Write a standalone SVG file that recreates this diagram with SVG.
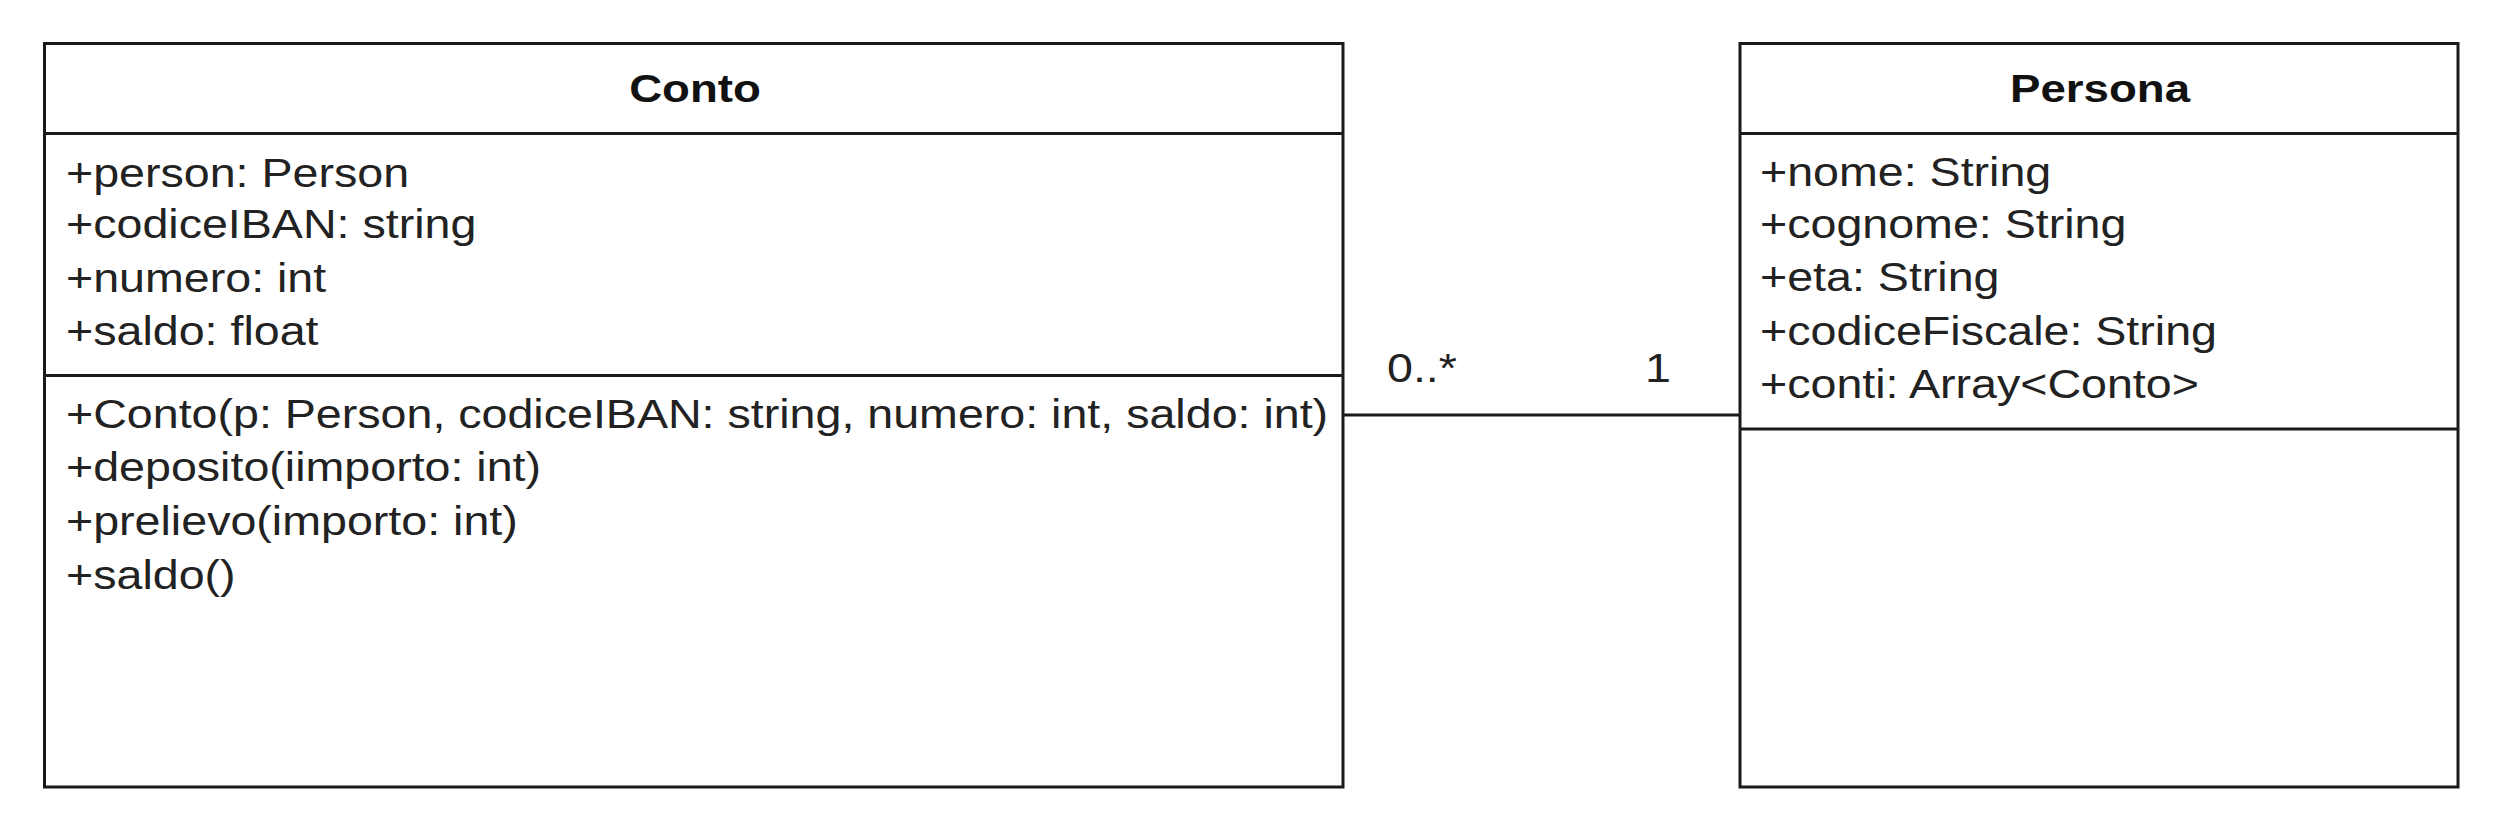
<svg xmlns="http://www.w3.org/2000/svg" width="2498" height="823" viewBox="0 0 2498 823">
<style>
.box{fill:#ffffff;stroke:#1a1a1a;stroke-width:3}
.div{stroke:#1a1a1a;stroke-width:3;fill:none}
.t{font-family:"Liberation Sans",Arial,sans-serif;font-size:40px;fill:#222222}
.h{font-family:"Liberation Sans",Arial,sans-serif;font-size:39px;font-weight:bold;fill:#111111;text-anchor:middle}
</style>
<rect width="2498" height="823" fill="#ffffff"/>
<g id="connectors">
<line class="div" x1="1343" y1="415" x2="1740" y2="415"/>
<text class="t" transform="translate(1387,382) scale(1.165,1)">0..*</text>
<text class="t" transform="translate(1645,382) scale(1.165,1)">1</text>
</g>
<g id="conto">
<rect class="box" x="44.5" y="43.5" width="1298.5" height="743.5"/>
<line class="div" x1="44.5" y1="133.5" x2="1343" y2="133.5"/>
<line class="div" x1="44.5" y1="375.5" x2="1343" y2="375.5"/>
<text class="h" transform="translate(695,102) scale(1.17,1)">Conto</text>
<text class="t" transform="translate(66,187) scale(1.165,1)">+person: Person</text>
<text class="t" transform="translate(66,238) scale(1.165,1)">+codiceIBAN: string</text>
<text class="t" transform="translate(66,292) scale(1.165,1)">+numero: int</text>
<text class="t" transform="translate(66,345) scale(1.165,1)">+saldo: float</text>
<text class="t" transform="translate(66,428) scale(1.165,1)">+Conto(p: Person, codiceIBAN: string, numero: int, saldo: int)</text>
<text class="t" transform="translate(66,481) scale(1.165,1)">+deposito(iimporto: int)</text>
<text class="t" transform="translate(66,535) scale(1.165,1)">+prelievo(importo: int)</text>
<text class="t" transform="translate(66,589) scale(1.165,1)">+saldo()</text>
</g>
<g id="persona">
<rect class="box" x="1740" y="43.5" width="718" height="743.5"/>
<line class="div" x1="1740" y1="133.5" x2="2458" y2="133.5"/>
<line class="div" x1="1740" y1="429" x2="2458" y2="429"/>
<text class="h" transform="translate(2100,102) scale(1.17,1)">Persona</text>
<text class="t" transform="translate(1760,186) scale(1.165,1)">+nome: String</text>
<text class="t" transform="translate(1760,238) scale(1.165,1)">+cognome: String</text>
<text class="t" transform="translate(1760,291) scale(1.165,1)">+eta: String</text>
<text class="t" transform="translate(1760,345) scale(1.165,1)">+codiceFiscale: String</text>
<text class="t" transform="translate(1760,398) scale(1.165,1)">+conti: Array&lt;Conto&gt;</text>
</g>
</svg>
